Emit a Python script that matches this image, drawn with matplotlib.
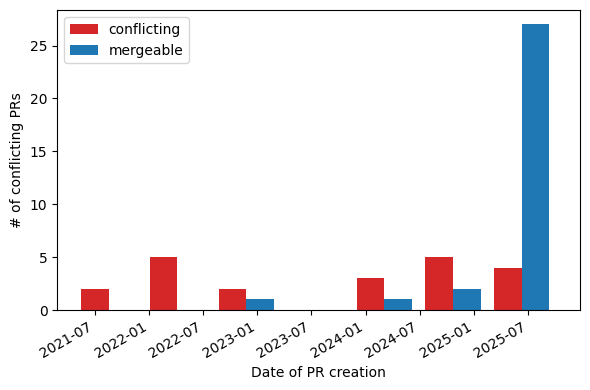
import numpy as np
import matplotlib
matplotlib.use("Agg")
import matplotlib.pyplot as plt
import matplotlib.dates as mdates

# PR counts per histogram bin (7 bins between first PR and now)
first_bin = np.datetime64("2021-04-23")
bin_days = 232.3
conflicting = [2, 5, 2, 0, 3, 5, 4]
mergeable = [0, 0, 1, 0, 1, 2, 27]
labels = ["conflicting", "mergeable"]

edges = mdates.date2num(first_bin) + bin_days * np.arange(len(conflicting) + 1)
centers = (edges[:-1] + edges[1:]) / 2

fig, ax = plt.subplots(figsize=(5.9, 3.9), dpi=100)
ax.hist(
    [centers, centers],
    bins=edges,
    weights=[conflicting, mergeable],
    rwidth=0.8,
    color=["tab:red", "tab:blue"],
    label=labels,
)

ax.xaxis_date()
ax.xaxis.set_major_locator(mdates.MonthLocator(bymonth=(1, 7)))
ax.xaxis.set_major_formatter(mdates.DateFormatter("%Y-%m"))
ax.set_xlim(mdates.date2num(np.datetime64("2021-02-25")),
            mdates.date2num(np.datetime64("2025-12-24")))
ax.set_ylim(0, 28.35)

ax.set_xlabel("Date of PR creation")
ax.set_ylabel("# of conflicting PRs")
ax.legend(loc="upper left")

fig.autofmt_xdate()
fig.subplots_adjust(left=0.097, right=0.983, top=0.974, bottom=0.205)
fig.savefig("out.png", dpi=100)
